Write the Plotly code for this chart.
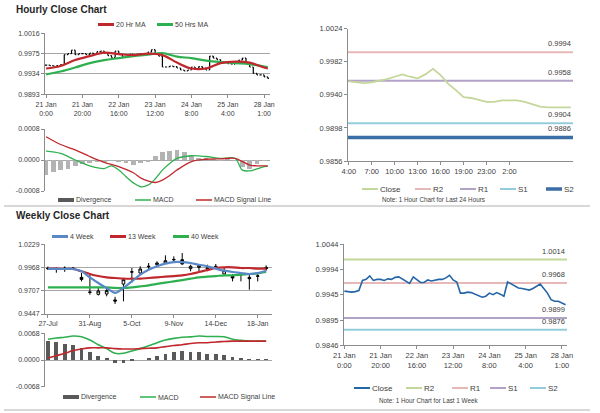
import plotly.graph_objects as go

W, H = 600, 413
FONT = "Liberation Sans, Arial, sans-serif"
GRID = "#a6a6a6"
AXIS = "#8c8c8c"
TXT = "#404040"

# ---------------- hourly data (2-hour steps, 21 Jan 0:00 -> 28 Jan 1:00)
hour_close = [0.9952, 0.9951, 0.9950, 0.9951, 0.9953, 0.9973, 0.9975, 0.9982, 0.9973, 0.9975,
              0.9975, 0.9973, 0.9976, 0.9975, 0.9979, 0.9980, 0.9976, 0.9971, 0.9967, 0.9980,
              0.9974, 0.9969, 0.9969, 0.9974, 0.9972, 0.9974, 0.9975, 0.9975, 0.9978, 0.9983,
              0.9974, 0.9970, 0.9948, 0.9948, 0.9950, 0.9949, 0.9946, 0.9942, 0.9940, 0.9942,
              0.9948, 0.9945, 0.9949, 0.9946, 0.9942, 0.9970, 0.9966, 0.9963, 0.9958, 0.9957,
              0.9955, 0.9954, 0.9957, 0.9962, 0.9966, 0.9957, 0.9948, 0.9935, 0.9932, 0.9932,
              0.9928, 0.9925]
hour_ticks = [0, 10, 20, 30, 40, 50, 60]
hour_labels = ["21 Jan<br>0:00", "21 Jan<br>20:00", "22 Jan<br>16:00", "23 Jan<br>12:00",
               "24 Jan<br>8:00", "25 Jan<br>4:00", "28 Jan<br>1:00"]

ma_x = [0, 4, 8, 12, 16, 20, 24, 28, 32, 36, 40, 44, 48, 52, 56, 60, 61]
ma20 = [0.9945, 0.9950, 0.9962, 0.9970, 0.9977, 0.9974, 0.9972, 0.9975, 0.9972, 0.9957,
        0.9945, 0.9945, 0.9956, 0.9959, 0.9957, 0.9947, 0.9945]
ma50 = [0.9933, 0.9939, 0.9947, 0.9956, 0.9962, 0.9966, 0.9970, 0.9973, 0.9976, 0.9969,
        0.9966, 0.9961, 0.9958, 0.9956, 0.9954, 0.9949, 0.9948]

h_macd_x = [0, 4, 8, 12, 16, 18, 20, 22, 24, 26, 28, 30, 32, 34, 36, 40, 44, 48, 52, 54,
            56, 58, 60, 61]
h_macd = [0.00023, 0.00017, 0.0, -0.00015, -0.00022, -0.00015, -0.00026, -0.00043, -0.00059,
          -0.00069, -0.00065, -0.00049, -0.00026, -0.00009, 0.00004, 0.00011, 0.00009, 0.00004,
          0.00004, -0.00026, -0.00028, -0.00023, -0.00017, -0.00016]
h_sig_x = [0, 4, 8, 12, 16, 20, 24, 26, 28, 30, 32, 34, 36, 40, 44, 48, 52, 54, 56, 58, 60, 61]
h_sig = [0.00060, 0.00040, 0.00026, 0.00009, -0.00006, -0.00017, -0.00033, -0.00046, -0.00054,
         -0.00058, -0.00052, -0.00040, -0.00026, -0.00004, 0.00002, 0.00003, 0.00004, -0.00004,
         -0.00013, -0.00015, -0.00015, -0.00015]
h_div = [-0.00039, -0.00032, -0.00027, -0.00022, -0.00016, -0.00011, -0.00007, -0.00004,
         -0.00003, -0.00001, -0.00004, -0.00009, -0.00013, -0.00009, -0.00003, 0.00011,
         0.00020, 0.00024, 0.00025, 0.00020, 0.00013, 0.00006, 0.00003, 0.00001, -0.00001,
         0.00002, -0.00001, -0.00017, -0.00023, -0.00011, -0.00002]

# ---------------- last 24 hours
day_close = [0.9957, 0.9956, 0.9955, 0.9956, 0.9958, 0.9960, 0.9963, 0.9966, 0.9963, 0.9961,
             0.9966, 0.9973, 0.9965, 0.9954, 0.9946, 0.9937, 0.9936, 0.9933, 0.9931, 0.9931,
             0.9933, 0.9933, 0.9933, 0.9931, 0.9928, 0.9925, 0.9924, 0.9924, 0.9924, 0.9924]
day_ticks = [0, 3, 6, 9, 12, 15, 18, 21]
day_labels = ["4:00", "7:00", "10:00", "13:00", "16:00", "19:00", "23:00", "2:00"]
day_levels = {"R2": 0.9994, "R1": 0.9958, "S1": 0.9904, "S2": 0.9886}

# ---------------- weekly data (27-Jul -> 25-Jan)
wk_open = [0.9960, 0.9958, 0.9952, 0.9962, 0.9858, 0.9694, 0.9668, 0.9671, 0.9605, 0.9783,
           0.9920, 0.9907, 0.9977, 1.0000, 1.0019, 1.0060, 1.0056, 0.9956, 0.9970, 0.9952,
           0.9963, 0.9896, 0.9870, 0.9892, 0.9858, 0.9870, 0.9970]
wk_high = [0.9980, 0.9968, 0.9981, 0.9975, 0.9907, 0.9888, 0.9738, 0.9731, 0.9640, 0.9835,
           0.9963, 0.9982, 1.0019, 1.0038, 1.0105, 1.0094, 1.0131, 1.0000, 1.0008, 1.0000,
           1.0008, 0.9963, 0.9896, 0.9907, 0.9888, 0.9907, 0.9993]
wk_low = [0.9942, 0.9910, 0.9920, 0.9940, 0.9813, 0.9664, 0.9655, 0.9645, 0.9560, 0.9589,
          0.9800, 0.9888, 0.9944, 0.9982, 1.0008, 1.0030, 1.0000, 0.9926, 0.9926, 0.9926,
          0.9955, 0.9888, 0.9813, 0.9813, 0.9720, 0.9813, 0.9933]
wk_close = [0.9955, 0.9952, 0.9960, 0.9950, 0.9835, 0.9690, 0.9705, 0.9709, 0.9592, 0.9832,
            0.9918, 0.9952, 0.9982, 1.0019, 1.0045, 1.0056, 1.0008, 0.9982, 0.9993, 0.9963,
            0.9982, 0.9933, 0.9851, 0.9888, 0.9843, 0.9874, 0.9955]
wk4 = [0.9956, 0.9952, 0.9952, 0.9952, 0.9926, 0.9858, 0.9795, 0.9739, 0.9685, 0.9739,
       0.9813, 0.9888, 0.9944, 0.9982, 1.0012, 1.0030, 1.0030, 1.0019, 1.0000, 0.9982,
       0.9956, 0.9933, 0.9918, 0.9907, 0.9896, 0.9907, 0.9933]
wk13 = [0.9956, 0.9956, 0.9952, 0.9952, 0.9926, 0.9896, 0.9873, 0.9858, 0.9851, 0.9843,
        0.9843, 0.9843, 0.9851, 0.9858, 0.9866, 0.9873, 0.9881, 0.9896, 0.9918, 0.9941,
        0.9963, 0.9971, 0.9971, 0.9963, 0.9963, 0.9956, 0.9956]
wk40 = [0.9746, 0.9746, 0.9746, 0.9746, 0.9746, 0.9746, 0.9746, 0.9746, 0.9739, 0.9739,
        0.9746, 0.9757, 0.9769, 0.9784, 0.9799, 0.9813, 0.9828, 0.9843, 0.9858, 0.9866,
        0.9873, 0.9881, 0.9881, 0.9888, 0.9896, 0.9903, 0.9918]
wk_ticks = [0, 5, 10, 15, 20, 25]
wk_labels = ["27-Jul", "31-Aug", "5-Oct", "9-Nov", "14-Dec", "18-Jan"]
wk_macd = [0.0053, 0.0056, 0.0058, 0.0061, 0.0059, 0.0051, 0.0039, 0.0029, 0.0017, 0.0017,
           0.0023, 0.0029, 0.0036, 0.0044, 0.0051, 0.0055, 0.0058, 0.0059, 0.0061, 0.0060,
           0.0060, 0.0059, 0.0053, 0.0050, 0.0048, 0.0048, 0.0048]
wk_sig = [0.0005, 0.0011, 0.0017, 0.0024, 0.0028, 0.0031, 0.0031, 0.0031, 0.0029, 0.0028,
          0.0028, 0.0029, 0.0030, 0.0031, 0.0034, 0.0037, 0.0039, 0.0042, 0.0044, 0.0044,
          0.0046, 0.0047, 0.0048, 0.0048, 0.0048, 0.0048, 0.0048]
wk_div = [0.0047, 0.0044, 0.0041, 0.0038, 0.0031, 0.0020, 0.0009, 0.0002, -0.0009, -0.0009,
          -0.0003, 0.0000, 0.0003, 0.0009, 0.0014, 0.0020, 0.0021, 0.0020, 0.0020, 0.0015,
          0.0014, 0.0011, 0.0006, 0.0003, 0.0001, 0.0001, 0.0001]

# ---------------- last week close (same hourly series) and its levels
week_levels = {"R2": 1.0014, "R1": 0.9968, "S1": 0.9899, "S2": 0.9876}

RED = "#c0282d"
GREEN = "#2fb050"
BLUE = "#5a87c5"


def px(x):
    return x / W


def py(y):
    return 1 - y / H


fig = go.Figure()

# hourly bars: each bar opens at the previous close
hour_open = hour_close[:1] + hour_close[:-1]
fig.add_trace(go.Ohlc(
    x=list(range(len(hour_close))), open=hour_open, close=hour_close,
    high=[max(a, b) for a, b in zip(hour_open, hour_close)],
    low=[min(a, b) for a, b in zip(hour_open, hour_close)],
    increasing=dict(line=dict(color="black", width=1.2)),
    decreasing=dict(line=dict(color="black", width=1.2)),
    tickwidth=0.3, xaxis="x", yaxis="y", showlegend=False, hoverinfo="skip"))
fig.add_trace(go.Scatter(x=ma_x, y=ma50, mode="lines", line=dict(color=GREEN, width=2.2, shape="spline"),
                         xaxis="x", yaxis="y", showlegend=False))
fig.add_trace(go.Scatter(x=ma_x, y=ma20, mode="lines", line=dict(color=RED, width=2.2, shape="spline"),
                         xaxis="x", yaxis="y", showlegend=False))

# hourly MACD
fig.add_trace(go.Bar(x=list(range(0, 61, 2)), y=h_div, width=1.3, marker_color="#b3b3b3",
                     marker_line_width=0, xaxis="x2", yaxis="y2", showlegend=False))
fig.add_trace(go.Scatter(x=h_macd_x, y=h_macd, mode="lines", line=dict(color=GREEN, width=1.3, shape="spline"),
                         xaxis="x2", yaxis="y2", showlegend=False))
fig.add_trace(go.Scatter(x=h_sig_x, y=h_sig, mode="lines", line=dict(color=RED, width=1.3, shape="spline"),
                         xaxis="x2", yaxis="y2", showlegend=False))

# last 24 hours
fig.add_trace(go.Scatter(x=list(range(len(day_close))), y=day_close, mode="lines",
                         line=dict(color="#c4d79b", width=1.8), xaxis="x3", yaxis="y3", showlegend=False))

# weekly candles + MAs
fig.add_trace(go.Candlestick(
    x=list(range(len(wk_close))), open=wk_open, high=wk_high, low=wk_low, close=wk_close,
    increasing=dict(line=dict(color="black", width=1), fillcolor="white"),
    decreasing=dict(line=dict(color="black", width=1), fillcolor="black"),
    xaxis="x4", yaxis="y4", showlegend=False, hoverinfo="skip"))
fig.add_trace(go.Scatter(x=list(range(len(wk40))), y=wk40, mode="lines",
                         line=dict(color=GREEN, width=2.2, shape="spline"), xaxis="x4", yaxis="y4", showlegend=False))
fig.add_trace(go.Scatter(x=list(range(len(wk13))), y=wk13, mode="lines",
                         line=dict(color=RED, width=2.2, shape="spline"), xaxis="x4", yaxis="y4", showlegend=False))
fig.add_trace(go.Scatter(x=list(range(len(wk4))), y=wk4, mode="lines",
                         line=dict(color=BLUE, width=2.2, shape="spline"), xaxis="x4", yaxis="y4", showlegend=False))

# weekly MACD
fig.add_trace(go.Bar(x=list(range(len(wk_div))), y=wk_div, width=0.45, marker_color="#595959",
                     marker_line_width=0, xaxis="x5", yaxis="y5", showlegend=False))
fig.add_trace(go.Scatter(x=list(range(len(wk_macd))), y=wk_macd, mode="lines",
                         line=dict(color=GREEN, width=1.6, shape="spline"), xaxis="x5", yaxis="y5", showlegend=False))
fig.add_trace(go.Scatter(x=list(range(len(wk_sig))), y=wk_sig, mode="lines",
                         line=dict(color=RED, width=1.6, shape="spline"), xaxis="x5", yaxis="y5", showlegend=False))

# last week close
fig.add_trace(go.Scatter(x=list(range(len(hour_close))), y=hour_close, mode="lines",
                         line=dict(color="#2466a8", width=1.6), xaxis="x6", yaxis="y6", showlegend=False))


def xaxis(x0, x1, y_anchor, rng, tickvals=None, ticktext=None, showline=True, size=7):
    return dict(domain=[px(x0), px(x1)], anchor=y_anchor, range=rng, showgrid=False, zeroline=False,
                showline=showline, linecolor=AXIS, linewidth=1, automargin=False,
                ticks="outside" if tickvals else "", ticklen=3, tickcolor=AXIS,
                tickvals=tickvals or [], ticktext=ticktext or [],
                tickfont=dict(size=size, color=TXT, family=FONT), fixedrange=True)


def yaxis(y0, y1, x_anchor, rng, tickvals, ticktext, grid=True, size=7):
    return dict(domain=[py(y1), py(y0)], anchor=x_anchor, range=rng, showgrid=grid, gridcolor=GRID,
                gridwidth=1, zeroline=False, showline=True, linecolor=AXIS, linewidth=1, automargin=False,
                ticks="outside", ticklen=3, tickcolor=AXIS, tickvals=tickvals, ticktext=ticktext,
                tickfont=dict(size=size, color=TXT, family=FONT), fixedrange=True)


def fmt(v):
    return [f"{t:.4f}" for t in v]


hp_ticks = [0.9893, 0.9934, 0.9975, 1.0016]
hm_ticks = [-0.0008, 0.0, 0.0008]
dy_ticks = [0.9856, 0.9898, 0.9940, 0.9982, 1.0024]
wp_ticks = [0.9447, 0.9707, 0.9968, 1.0229]
wm_ticks = [-0.0068, 0.0, 0.0068]
wk_yticks = [0.9846, 0.9895, 0.9945, 0.9994, 1.0044]

fig.update_layout(
    template="none",
    width=W, height=H, margin=dict(l=0, r=0, t=0, b=0, pad=0, autoexpand=False),
    paper_bgcolor="white", plot_bgcolor="white",
    font=dict(family=FONT, color=TXT, size=7),
    showlegend=False, boxgap=0.55, bargap=0,
    xaxis=dict(xaxis(45, 270, "y", [-0.3, 61.6], hour_ticks, hour_labels), rangeslider=dict(visible=False)),
    yaxis=yaxis(33.3, 94.3, "x", [hp_ticks[0], hp_ticks[-1]], hp_ticks, fmt(hp_ticks)),
    xaxis2=xaxis(45, 270, "y2", [-0.3, 61.6], showline=False),
    yaxis2=yaxis(129, 191, "x2", [hm_ticks[0], hm_ticks[-1]], hm_ticks, fmt(hm_ticks)),
    xaxis3=xaxis(348, 573, "y3", [-0.1, 29.3], day_ticks, day_labels, size=7.5),
    yaxis3=yaxis(28.7, 161, "x3", [dy_ticks[0], dy_ticks[-1]], dy_ticks, fmt(dy_ticks), grid=False, size=7.5),
    xaxis4=dict(xaxis(45, 272, "y4", [-0.35, 26.7], wk_ticks, wk_labels), rangeslider=dict(visible=False)),
    yaxis4=yaxis(244.3, 314, "x4", [wp_ticks[0], wp_ticks[-1]], wp_ticks, fmt(wp_ticks)),
    xaxis5=xaxis(45, 272, "y5", [-0.35, 26.7], showline=False),
    yaxis5=yaxis(333.3, 386.7, "x5", [wm_ticks[0], wm_ticks[-1]], wm_ticks, fmt(wm_ticks)),
    xaxis6=xaxis(344, 567, "y6", [-0.1, 61.4], hour_ticks, hour_labels, size=7.5),
    yaxis6=yaxis(244.3, 345, "x6", [wk_yticks[0], wk_yticks[-1]], wk_yticks, fmt(wk_yticks), grid=False, size=7.5),
)

shapes = []
annotations = []

# pivot levels as horizontal lines with value labels
day_colors = {"R2": ("#e6b9b8", 2), "R1": ("#b3a2c7", 2), "S1": ("#93cddd", 2), "S2": ("#3a6ea5", 3.5)}
week_colors = {"R2": ("#c4d79b", 2), "R1": ("#e6b9b8", 2), "S1": ("#b3a2c7", 2), "S2": ("#93cddd", 2)}
for levels, colors, xr, yr in [(day_levels, day_colors, "x3", "y3"), (week_levels, week_colors, "x6", "y6")]:
    for name, val in levels.items():
        col, w = colors[name]
        shapes.append(dict(type="line", xref=f"{xr} domain", yref=yr, x0=0, x1=1, y0=val, y1=val,
                           line=dict(color=col, width=w), layer="below"))
        annotations.append(dict(xref=f"{xr} domain", yref=yr, x=1, y=val, text=f"{val:.4f}",
                                xanchor="right", yanchor="bottom", yshift=2, showarrow=False,
                                font=dict(size=7.5, color=TXT)))


def legend_row(items, y, size=7):
    for x0, color, label, kind, lw in items:
        if kind == "bar":
            shapes.append(dict(type="rect", xref="paper", yref="paper", x0=px(x0), x1=px(x0 + 16),
                               y0=py(y + 2), y1=py(y - 2), fillcolor=color, line=dict(width=0)))
        else:
            shapes.append(dict(type="line", xref="paper", yref="paper", x0=px(x0), x1=px(x0 + 16),
                               y0=py(y), y1=py(y), line=dict(color=color, width=lw)))
        annotations.append(dict(xref="paper", yref="paper", x=px(x0 + 16), y=py(y), text=label,
                                xanchor="left", yanchor="middle", showarrow=False,
                                font=dict(size=size, color=TXT)))


legend_row([(98, RED, "20 Hr MA", "line", 3), (157, GREEN, "50 Hrs MA", "line", 3)], 24.5)
legend_row([(58, "#595959", "Divergence", "bar", 0), (135, GREEN, "MACD", "line", 1.5),
            (196, RED, "MACD Signal Line", "line", 1.5)], 200)
legend_row([(52, BLUE, "4 Week", "line", 3), (110, RED, "13 Week", "line", 3),
            (173, GREEN, "40 Week", "line", 3)], 236.5)
legend_row([(63, "#595959", "Divergence", "bar", 0), (140, GREEN, "MACD", "line", 1.5),
            (200, RED, "MACD Signal Line", "line", 1.5)], 397)
legend_row([(362, "#c4d79b", "Close", "line", 2), (415, "#e6b9b8", "R2", "line", 2),
            (460, "#b3a2c7", "R1", "line", 2), (500, "#93cddd", "S1", "line", 2),
            (546, "#3a6ea5", "S2", "line", 3.5)], 189, size=8)
legend_row([(354, "#2466a8", "Close", "line", 2), (406, "#c4d79b", "R2", "line", 2),
            (452, "#e6b9b8", "R1", "line", 2), (490, "#b3a2c7", "S1", "line", 2),
            (530, "#93cddd", "S2", "line", 2)], 388, size=8)

annotations.append(dict(xref="paper", yref="paper", x=px(433), y=py(200), text="Note: 1 Hour Chart for Last 24 Hours",
                        xanchor="center", yanchor="middle", showarrow=False, font=dict(size=6.3, color=TXT)))
annotations.append(dict(xref="paper", yref="paper", x=px(428), y=py(400), text="Note: 1 Hour Chart for Last 1 Week",
                        xanchor="center", yanchor="middle", showarrow=False, font=dict(size=6.3, color=TXT)))

# section titles
for title, y in [("Hourly Close Chart", 9), ("Weekly Close Chart", 215)]:
    annotations.append(dict(xref="paper", yref="paper", x=px(14), y=py(y), text=f"<b>{title}</b>",
                            xanchor="left", yanchor="middle", showarrow=False,
                            font=dict(size=10, color="#262626")))

# separators
for y in [206, 410]:
    shapes.append(dict(type="line", xref="paper", yref="paper", x0=px(4), x1=px(590), y0=py(y), y1=py(y),
                       line=dict(color="#b0b0b0", width=1)))

fig.update_layout(shapes=shapes, annotations=annotations)
# the figure fills the whole window, so drop the page's default body margin
fig.write_html("out.html", config={"displayModeBar": False},
               post_script="document.body.style.margin = '0';")
